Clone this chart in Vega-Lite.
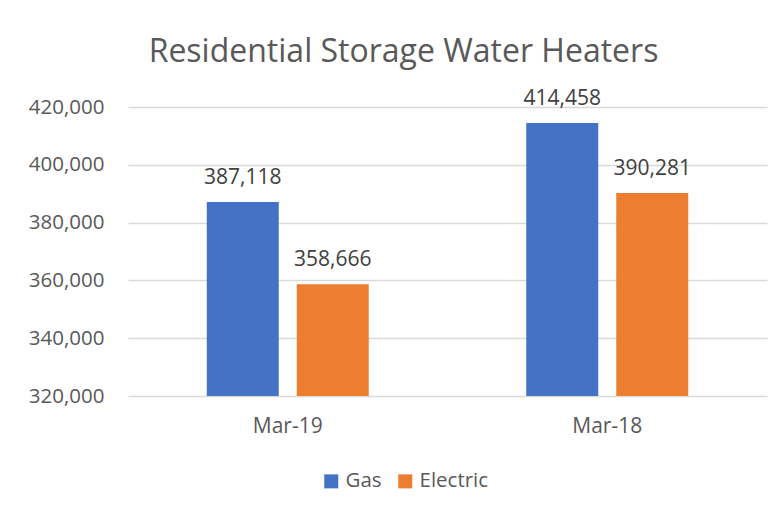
{
  "$schema": "https://vega.github.io/schema/vega-lite/v6.json",
  "width": 639,
  "height": 289,
  "autosize": {"type": "none"},
  "padding": {"left": 128, "top": 107, "right": 14, "bottom": 118},
  "background": "white",
  "title": {
    "text": "Residential Storage Water Heaters",
    "anchor": "middle",
    "font": "Open Sans",
    "fontSize": 32,
    "fontWeight": "normal",
    "color": "#595959",
    "baseline": "alphabetic",
    "offset": -6,
    "dx": -44
  },
  "data": {
    "values": [
      {"month": "Mar-19", "type": "Gas", "value": 387118},
      {"month": "Mar-19", "type": "Electric", "value": 358666},
      {"month": "Mar-18", "type": "Gas", "value": 414458},
      {"month": "Mar-18", "type": "Electric", "value": 390281}
    ]
  },
  "encoding": {
    "x": {
      "field": "month",
      "type": "nominal",
      "sort": ["Mar-19", "Mar-18"],
      "title": null,
      "scale": {"paddingInner": 0.493, "paddingOuter": 0.2465},
      "axis": {
        "domain": false,
        "ticks": false,
        "labelAngle": 0,
        "labelFont": "Open Sans",
        "labelFontSize": 21,
        "labelColor": "#595959",
        "labelPadding": 19
      }
    },
    "xOffset": {
      "field": "type",
      "type": "nominal",
      "sort": ["Gas", "Electric"],
      "scale": {"paddingInner": 0.2, "paddingOuter": 0}
    },
    "y": {
      "field": "value",
      "type": "quantitative",
      "title": null,
      "scale": {"domain": [320000, 420000], "nice": false, "zero": false},
      "axis": {
        "values": [320000, 340000, 360000, 380000, 400000, 420000],
        "format": ",.0f",
        "domain": false,
        "ticks": false,
        "gridColor": "#D9D9D9",
        "gridWidth": 1.5,
        "labelFont": "Open Sans",
        "labelFontSize": 20.5,
        "labelColor": "#595959",
        "labelPadding": 24
      }
    }
  },
  "layer": [
    {
      "mark": {"type": "bar", "clip": true},
      "encoding": {
        "color": {
          "field": "type",
          "type": "nominal",
          "sort": ["Gas", "Electric"],
          "scale": {"domain": ["Gas", "Electric"], "range": ["#4472C4", "#ED7D31"]},
          "legend": {
            "orient": "none",
            "direction": "horizontal",
            "legendX": 193,
            "legendY": 364,
            "title": null,
            "symbolType": "square",
            "symbolSize": 196,
            "symbolStrokeWidth": 0,
            "labelFont": "Open Sans",
            "labelFontSize": 20.5,
            "labelColor": "#595959",
            "labelOffset": 4,
            "columnPadding": 13
          }
        }
      }
    },
    {
      "mark": {
        "type": "text",
        "baseline": "alphabetic",
        "dy": -18,
        "font": "Open Sans",
        "fontSize": 21,
        "color": "#404040"
      },
      "encoding": {
        "text": {"field": "value", "type": "quantitative", "format": ",.0f"}
      }
    }
  ],
  "config": {"view": {"stroke": null}}
}
